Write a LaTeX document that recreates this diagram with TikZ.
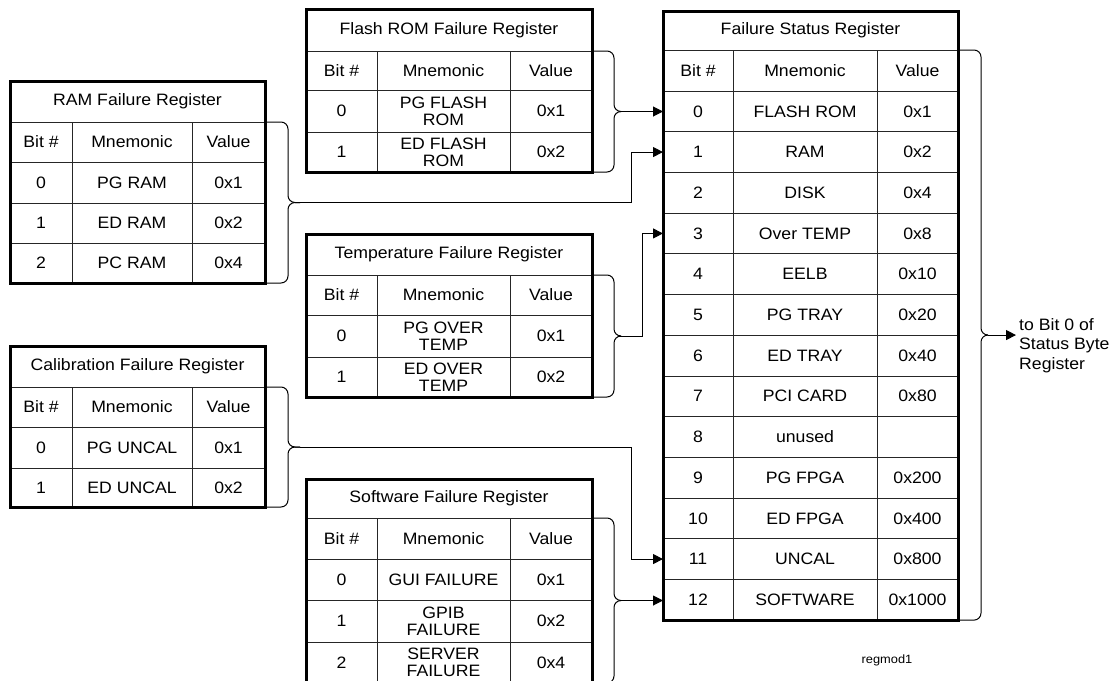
\documentclass[tikz,border=0pt]{standalone}
\usepackage{fontspec}
\setmainfont{Liberation Sans}[FakeStretch=1.07]
\usetikzlibrary{arrows.meta,calc}
\newcommand\setcols[4]{\def\colA{#1}\def\colB{#2}\def\colC{#3}\def\colD{#4}}
\newcommand\regtitle[4]{\node[cell, minimum width={(\colD-\colA)*1pt}, minimum height={(#3-#2)*1pt}] (#1) at ({(\colA+\colD)/2},{(#2+#3)/2}) {#4};}
\newcommand\regrow[6]{%
 \node[cell, minimum width={(\colB-\colA)*1pt}, minimum height={(#3-#2)*1pt}] (#1b) at ({(\colA+\colB)/2},{(#2+#3)/2}) {#4};
 \node[cell, minimum width={(\colC-\colB)*1pt}, minimum height={(#3-#2)*1pt}] (#1m) at ({(\colB+\colC)/2},{(#2+#3)/2}) {#5};
 \node[cell, minimum width={(\colD-\colC)*1pt}, minimum height={(#3-#2)*1pt}] (#1v) at ({(\colC+\colD)/2},{(#2+#3)/2}) {#6};}
\newcommand\regbrace[5]{%
 \coordinate (#1) at ($(#2)!0.5!(#3)+(#5,0)$);
 \draw[brc] (#2) -- ++(#4,0) |- (#1);
 \draw[brc] (#3) -- ++(#4,0) |- (#1);}
\tikzset{
 cell/.style={draw=black!85, line width=0.8pt, inner sep=0pt, outer sep=0pt, font={\fontsize{16.5}{17}\selectfont}, align=center},
 outer/.style={line width=3pt},
 brc/.style={line width=1pt, rounded corners=7pt},
 arr/.style={line width=1pt, -{Triangle[length=10pt,width=10pt]}},
}
\begin{document}
\begin{tikzpicture}[x=1pt,y=-1pt]
\useasboundingbox (0,0) rectangle (1118,680);
\clip (0,0) rectangle (1118,680);
% RAM
\setcols{10}{72}{192}{265}
\regtitle{ramt}{81}{122}{RAM Failure Register}
\regrow{ramh}{122}{162}{Bit \#}{Mnemonic}{Value}
\regrow{ram0}{162}{203}{0}{PG RAM}{0x1}
\regrow{ram1}{203}{243}{1}{ED RAM}{0x2}
\regrow{ram2}{243}{283}{2}{PC RAM}{0x4}
\draw[outer] (ramt.north west) rectangle (ram2v.south east);
% Calibration
\regtitle{calt}{346}{387}{Calibration Failure Register}
\regrow{calh}{387}{427}{Bit \#}{Mnemonic}{Value}
\regrow{cal0}{427}{468}{0}{PG UNCAL}{0x1}
\regrow{cal1}{468}{507}{1}{ED UNCAL}{0x2}
\draw[outer] (calt.north west) rectangle (cal1v.south east);
% Flash
\setcols{306}{377}{510}{592}
\regtitle{flt}{9}{51}{Flash ROM Failure Register}
\regrow{flh}{51}{90}{Bit \#}{Mnemonic}{Value}
\regrow{fl0}{90}{132}{0}{PG FLASH\\ROM}{0x1}
\regrow{fl1}{132}{172}{1}{ED FLASH\\ROM}{0x2}
\draw[outer] (flt.north west) rectangle (fl1v.south east);
% Temperature
\regtitle{tpt}{234}{275}{Temperature Failure Register}
\regrow{tph}{275}{315}{Bit \#}{Mnemonic}{Value}
\regrow{tp0}{315}{357}{0}{PG OVER\\TEMP}{0x1}
\regrow{tp1}{357}{397}{1}{ED OVER\\TEMP}{0x2}
\draw[outer] (tpt.north west) rectangle (tp1v.south east);
% Software
\regtitle{swt}{479}{518}{Software Failure Register}
\regrow{swh}{518}{559}{Bit \#}{Mnemonic}{Value}
\regrow{sw0}{559}{600}{0}{GUI FAILURE}{0x1}
\regrow{sw1}{600}{642}{1}{GPIB\\FAILURE}{0x2}
\regrow{sw2}{642}{683}{2}{SERVER\\FAILURE}{0x4}
\draw[outer] (swt.north west) rectangle (sw2v.south east);
% Failure Status Register
\setcols{663}{733}{877}{958}
\regtitle{fsrt}{11}{50}{Failure Status Register}
\regrow{fsrh}{50}{91}{Bit \#}{Mnemonic}{Value}
\regrow{fsr0}{91}{131.7}{0}{FLASH ROM}{0x1}
\regrow{fsr1}{131.7}{172.4}{1}{RAM}{0x2}
\regrow{fsr2}{172.4}{213.1}{2}{DISK}{0x4}
\regrow{fsr3}{213.1}{253.8}{3}{Over TEMP}{0x8}
\regrow{fsr4}{253.8}{294.5}{4}{EELB}{0x10}
\regrow{fsr5}{294.5}{335.2}{5}{PG TRAY}{0x20}
\regrow{fsr6}{335.2}{375.9}{6}{ED TRAY}{0x40}
\regrow{fsr7}{375.9}{416.6}{7}{PCI CARD}{0x80}
\regrow{fsr8}{416.6}{457.3}{8}{unused}{}
\regrow{fsr9}{457.3}{498}{9}{PG FPGA}{0x200}
\regrow{fsr10}{498}{538.7}{10}{ED FPGA}{0x400}
\regrow{fsr11}{538.7}{579.4}{11}{UNCAL}{0x800}
\regrow{fsr12}{579.4}{620.1}{12}{SOFTWARE}{0x1000}
\draw[outer] (fsrt.north west) rectangle (fsr12v.south east);
% braces
\regbrace{ramtip}{ramhv.north east}{ram2v.south east}{23}{35}
\regbrace{caltip}{calhv.north east}{cal1v.south east}{23}{35}
\regbrace{flashtip}{flhv.north east}{fl1v.south east}{22}{28}
\regbrace{temptip}{tphv.north east}{tp1v.south east}{22}{28}
\regbrace{softtip}{swhv.north east}{sw2v.south east}{22}{28}
\regbrace{fsrtip}{fsrhv.north east}{fsr12v.south east}{23}{30}
% connectors
\draw[arr] (flashtip) -- (flashtip -| fsr0b.west);
\draw[arr] (ramtip) -- ++(331,0) |- (fsr1b.west);
\draw[arr] (temptip) -- ++(22,0) |- (fsr3b.west);
\draw[arr] (caltip) -- ++(331,0) |- (fsr11b.west);
\draw[arr] (softtip) -- (softtip -| fsr12b.west);
\node[anchor=west, inner sep=3pt, align=left, font={\fontsize{16.5}{19.5}\selectfont}] (outtxt) at (1016,345.5) {to Bit 0 of\\Status Byte\\Register};
\draw[arr] (fsrtip) -- (fsrtip -| outtxt.west);
\node[font={\fontsize{12}{14}\selectfont}] (regmod) at (887,660) {regmod1};
\end{tikzpicture}
\end{document}
